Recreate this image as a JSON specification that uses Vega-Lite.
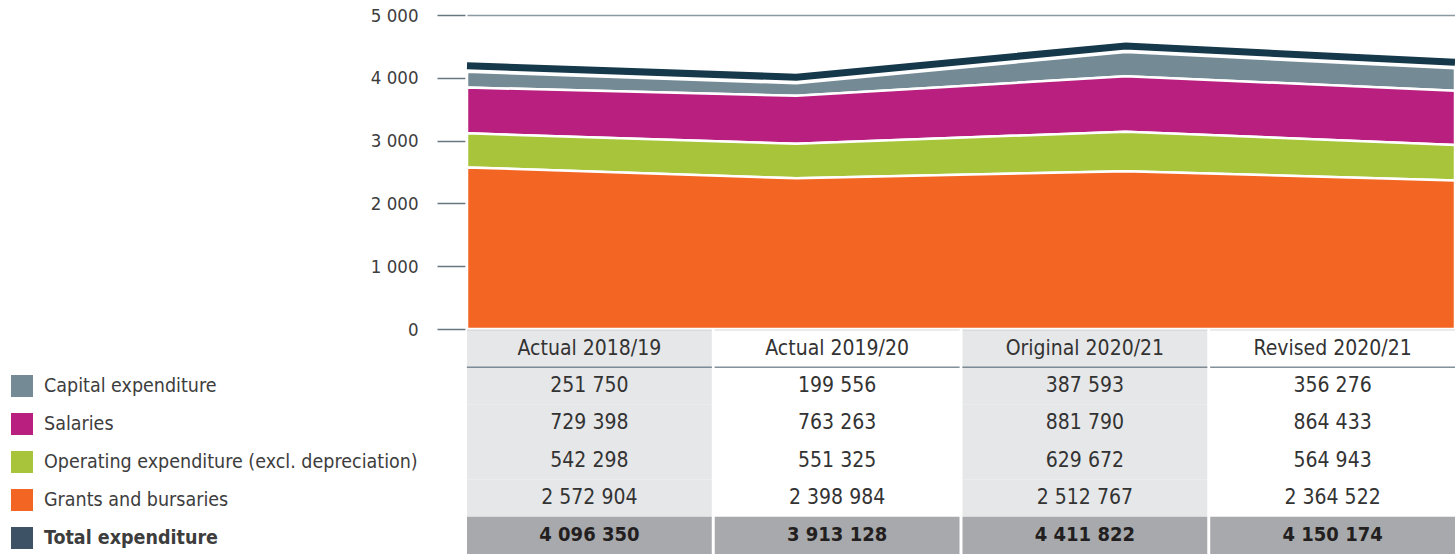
{
  "$schema": "https://vega.github.io/schema/vega-lite/v6.json",
  "padding": {"left": 11, "top": 6, "right": 0, "bottom": 0},
  "bounds": "flush",
  "spacing": 1,
  "config": {
    "view": {"stroke": null},
    "font": "DejaVu Sans Condensed, sans-serif",
    "locale": {"number": {"decimal": ".", "thousands": " ", "grouping": [3], "currency": ["", ""]}}
  },
  "datasets": {
    "rows": [
      {"period": "Actual 2018/19", "series": "Capital expenditure", "value": 251750, "k": 4},
      {"period": "Actual 2018/19", "series": "Salaries", "value": 729398, "k": 3},
      {"period": "Actual 2018/19", "series": "Operating expenditure (excl. depreciation)", "value": 542298, "k": 2},
      {"period": "Actual 2018/19", "series": "Grants and bursaries", "value": 2572904, "k": 1},
      {"period": "Actual 2018/19", "series": "Total expenditure", "value": 4096350, "k": 5},
      {"period": "Actual 2019/20", "series": "Capital expenditure", "value": 199556, "k": 4},
      {"period": "Actual 2019/20", "series": "Salaries", "value": 763263, "k": 3},
      {"period": "Actual 2019/20", "series": "Operating expenditure (excl. depreciation)", "value": 551325, "k": 2},
      {"period": "Actual 2019/20", "series": "Grants and bursaries", "value": 2398984, "k": 1},
      {"period": "Actual 2019/20", "series": "Total expenditure", "value": 3913128, "k": 5},
      {"period": "Original 2020/21", "series": "Capital expenditure", "value": 387593, "k": 4},
      {"period": "Original 2020/21", "series": "Salaries", "value": 881790, "k": 3},
      {"period": "Original 2020/21", "series": "Operating expenditure (excl. depreciation)", "value": 629672, "k": 2},
      {"period": "Original 2020/21", "series": "Grants and bursaries", "value": 2512767, "k": 1},
      {"period": "Original 2020/21", "series": "Total expenditure", "value": 4411822, "k": 5},
      {"period": "Revised 2020/21", "series": "Capital expenditure", "value": 356276, "k": 4},
      {"period": "Revised 2020/21", "series": "Salaries", "value": 864433, "k": 3},
      {"period": "Revised 2020/21", "series": "Operating expenditure (excl. depreciation)", "value": 564943, "k": 2},
      {"period": "Revised 2020/21", "series": "Grants and bursaries", "value": 2364522, "k": 1},
      {"period": "Revised 2020/21", "series": "Total expenditure", "value": 4150174, "k": 5}
    ],
    "periods": [
      {"period": "Actual 2018/19"},
      {"period": "Actual 2019/20"},
      {"period": "Original 2020/21"},
      {"period": "Revised 2020/21"}
    ]
  },
  "vconcat": [
    {
      "width": 988,
      "height": 314,
      "layer": [
        {
          "data": {"name": "rows"},
          "transform": [{"filter": "datum.series !== 'Total expenditure'"}],
          "mark": {"type": "area", "stroke": "white", "strokeWidth": 2.5, "opacity": 1},
          "encoding": {
            "x": {"field": "period", "type": "ordinal", "scale": {"type": "point", "padding": 0, "domain": ["Actual 2018/19", "Actual 2019/20", "Original 2020/21", "Revised 2020/21"]}, "axis": null},
            "y": {
              "field": "value", "type": "quantitative", "stack": "zero",
              "scale": {"domain": [0, 5000000], "nice": false},
              "axis": {
                "title": null,
                "values": [0, 1000000, 2000000, 3000000, 4000000, 5000000],
                "labelExpr": "format(datum.value / 1000, ',')",
                "domain": false,
                "tickSize": 28,
                "tickColor": "#66777f",
                "tickWidth": 1.5,
                "offset": 2,
                "labelPadding": 19,
                "labelFontSize": 18.5,
                "labelColor": "#3d3d3d",
                "grid": true,
                "gridWidth": 1.5,
                "gridColor": {"condition": {"test": "datum.value === 5000000", "value": "#8c9ba3"}, "value": "transparent"}
              }
            },
            "fill": {
              "field": "series", "type": "nominal",
              "scale": {
                "domain": ["Capital expenditure", "Salaries", "Operating expenditure (excl. depreciation)", "Grants and bursaries", "Total expenditure"],
                "range": ["#748b96", "#b81f7e", "#a7c43a", "#f26522", "#3d5265"]
              },
              "legend": {
                "orient": "none",
                "legendX": -456,
                "legendY": 360,
                "title": null,
                "padding": 0,
                "symbolType": "square",
                "symbolSize": 484,
                "symbolStrokeWidth": 0,
                "symbolOpacity": 1,
                "labelFontSize": 19.5,
                "labelColor": "#3d3d3d",
                "labelLimit": 600,
                "labelOffset": 11,
                "rowPadding": 16,
                "labelFontWeight": {"expr": "datum.label === 'Total expenditure' ? 'bold' : 'normal'"}
              }
            },
            "order": {"field": "k", "type": "quantitative"}
          }
        },
        {
          "data": {"name": "rows"},
          "transform": [{"filter": "datum.series === 'Total expenditure'"}],
          "mark": {"type": "line", "color": "#15384a", "strokeWidth": 7, "yOffset": -6},
          "encoding": {
            "x": {"field": "period", "type": "ordinal"},
            "y": {"field": "value", "type": "quantitative"}
          }
        }
      ]
    },
    {
      "width": 988,
      "height": 224,
      "encoding": {
        "x": {"field": "period", "type": "nominal", "scale": {"domain": ["Actual 2018/19", "Actual 2019/20", "Original 2020/21", "Revised 2020/21"], "paddingInner": 0.012, "paddingOuter": 0}, "axis": null}
      },
      "layer": [
        {
          "data": {"name": "periods"},
          "mark": {"type": "rect"},
          "encoding": {
            "y": {"datum": "header", "type": "nominal", "scale": {"domain": ["header", "Capital expenditure", "Salaries", "Operating expenditure (excl. depreciation)", "Grants and bursaries", "Total expenditure"], "paddingInner": 0, "paddingOuter": 0}, "axis": null},
            "color": {"condition": {"test": "datum.period === 'Actual 2018/19' || datum.period === 'Original 2020/21'", "value": "#e6e7e8"}, "value": "#ffffff"}
          }
        },
        {
          "data": {"name": "rows"},
          "mark": {"type": "rect"},
          "encoding": {
            "y": {"field": "series", "type": "nominal"},
            "color": {"condition": [
              {"test": "datum.series === 'Total expenditure'", "value": "#a7a9ac"},
              {"test": "datum.period === 'Actual 2018/19' || datum.period === 'Original 2020/21'", "value": "#e6e7e8"}
            ], "value": "#ffffff"}
          }
        },
        {
          "data": {"name": "periods"},
          "mark": {"type": "tick", "orient": "horizontal", "thickness": 1, "size": 245, "color": "#c3c8cb"},
          "encoding": {
            "y": {"datum": "header", "type": "nominal", "bandPosition": 0}
          }
        },
        {
          "data": {"name": "periods"},
          "mark": {"type": "tick", "orient": "horizontal", "thickness": 1.5, "size": 245, "color": "#4f6270"},
          "encoding": {
            "y": {"datum": "header", "type": "nominal", "bandPosition": 1}
          }
        },
        {
          "data": {"name": "periods"},
          "mark": {"type": "text", "fontSize": 21, "color": "#333333", "baseline": "middle"},
          "encoding": {
            "y": {"datum": "header", "type": "nominal"},
            "text": {"field": "period"}
          }
        },
        {
          "data": {"name": "rows"},
          "transform": [{"filter": "datum.series !== 'Total expenditure'"}],
          "mark": {"type": "text", "fontSize": 21, "color": "#333333", "baseline": "middle"},
          "encoding": {
            "y": {"field": "series", "type": "nominal"},
            "text": {"field": "value", "type": "quantitative", "format": ","}
          }
        },
        {
          "data": {"name": "rows"},
          "transform": [{"filter": "datum.series === 'Total expenditure'"}],
          "mark": {"type": "text", "fontSize": 20, "fontWeight": "bold", "color": "#231f20", "baseline": "middle"},
          "encoding": {
            "y": {"field": "series", "type": "nominal"},
            "text": {"field": "value", "type": "quantitative", "format": ","}
          }
        }
      ]
    }
  ]
}
